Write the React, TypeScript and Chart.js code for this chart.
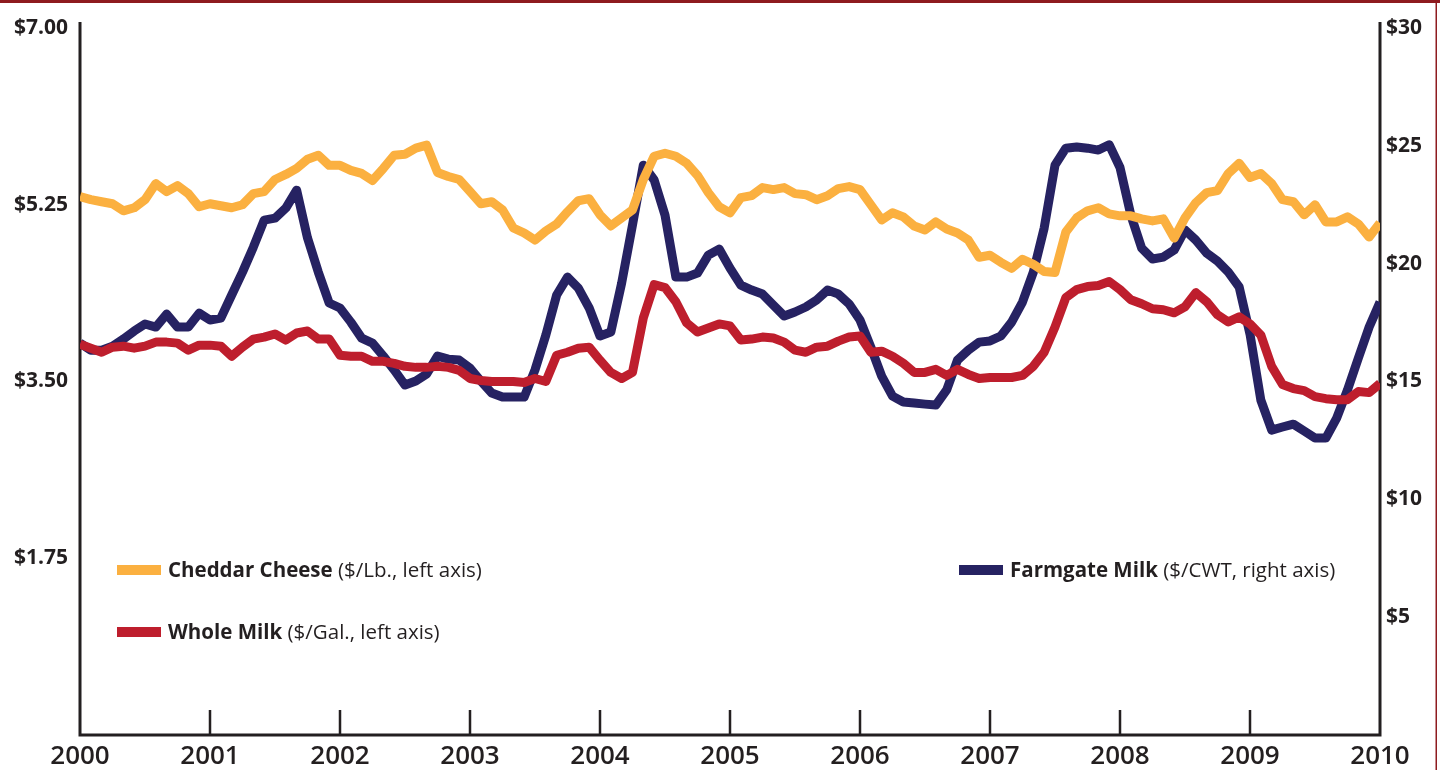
import React, { useEffect, useRef } from 'react';
import { Chart, registerables } from 'chart.js';

Chart.register(...registerables);

// ---- data (monthly, Jan 2000 .. Jan 2010) ----
const YEARS = ['2000', '2001', '2002', '2003', '2004', '2005', '2006', '2007', '2008', '2009', '2010'];

const CHEDDAR = [
  5.33, 5.30, 5.28, 5.26, 5.19, 5.22, 5.30, 5.46, 5.38, 5.44, 5.36, 5.23,
  5.26, 5.24, 5.22, 5.25, 5.36, 5.38, 5.50, 5.55, 5.61, 5.70, 5.74, 5.64,
  5.64, 5.59, 5.56, 5.49, 5.61, 5.74, 5.75, 5.81, 5.84, 5.57, 5.53, 5.50,
  5.38, 5.26, 5.28, 5.20, 5.02, 4.97, 4.90, 4.99, 5.06, 5.18, 5.29, 5.31,
  5.15, 5.04, 5.12, 5.20, 5.50, 5.73, 5.76, 5.73, 5.66, 5.54, 5.37, 5.23,
  5.17, 5.32, 5.34, 5.42, 5.40, 5.42, 5.36, 5.35, 5.30, 5.34, 5.41, 5.43,
  5.40, 5.25, 5.10, 5.17, 5.13, 5.04, 5.00, 5.08, 5.01, 4.97, 4.90, 4.73,
  4.75, 4.68, 4.62, 4.71, 4.66, 4.59, 4.58, 4.98, 5.12, 5.19, 5.22, 5.16,
  5.14, 5.14, 5.11, 5.09, 5.11, 4.92, 5.12, 5.27, 5.37, 5.39, 5.56, 5.66,
  5.52, 5.56, 5.46, 5.30, 5.28, 5.15, 5.25, 5.08, 5.08, 5.13, 5.06, 4.93,
  5.07,
];

const WHOLE_MILK = [
  3.87, 3.83, 3.79, 3.84, 3.85, 3.83, 3.85, 3.89, 3.89, 3.88, 3.81, 3.86,
  3.86, 3.85, 3.75, 3.84, 3.92, 3.94, 3.97, 3.91, 3.98, 4.00, 3.92, 3.92,
  3.76, 3.75, 3.75, 3.70, 3.70, 3.68, 3.65, 3.64, 3.64, 3.65, 3.64, 3.61,
  3.53, 3.51, 3.50, 3.50, 3.50, 3.49, 3.53, 3.50, 3.76, 3.79, 3.83, 3.84,
  3.71, 3.59, 3.53, 3.59, 4.13, 4.46, 4.43, 4.29, 4.08, 3.99, 4.03, 4.07,
  4.05, 3.91, 3.92, 3.94, 3.93, 3.89, 3.81, 3.79, 3.84, 3.85, 3.90, 3.94,
  3.95, 3.79, 3.80, 3.75, 3.68, 3.59, 3.59, 3.62, 3.56, 3.62, 3.57, 3.53,
  3.54, 3.54, 3.54, 3.56, 3.65, 3.79, 4.04, 4.33, 4.41, 4.44, 4.45, 4.49,
  4.41, 4.31, 4.27, 4.22, 4.21, 4.18, 4.24, 4.38, 4.29, 4.16, 4.09, 4.14,
  4.07, 3.96, 3.65, 3.47, 3.43, 3.41, 3.35, 3.33, 3.32, 3.32, 3.40, 3.39,
  3.48,
];

const FARMGATE = [
  16.63, 16.33, 16.33, 16.50, 16.80, 17.14, 17.44, 17.31, 17.86, 17.31, 17.31, 17.90,
  17.61, 17.69, 18.67, 19.64, 20.70, 21.85, 21.93, 22.36, 23.12, 21.09, 19.64, 18.33,
  18.12, 17.52, 16.84, 16.63, 16.08, 15.49, 14.85, 15.02, 15.32, 16.08, 15.95, 15.91,
  15.57, 15.02, 14.51, 14.34, 14.34, 14.34, 15.49, 16.97, 18.67, 19.43, 18.96, 18.12,
  16.93, 17.10, 19.18, 21.64, 24.18, 23.55, 22.06, 19.43, 19.43, 19.60, 20.36, 20.62,
  19.81, 19.09, 18.88, 18.71, 18.24, 17.78, 17.95, 18.16, 18.46, 18.88, 18.71, 18.29,
  17.61, 16.46, 15.23, 14.38, 14.13, 14.09, 14.04, 14.00, 14.64, 15.91, 16.33, 16.67,
  16.72, 16.93, 17.52, 18.37, 19.64, 21.51, 24.18, 24.90, 24.95, 24.90, 24.82, 25.05,
  24.08, 22.06, 20.66, 20.20, 20.28, 20.58, 21.43, 21.00, 20.45, 20.11, 19.64, 19.01,
  17.01, 14.21, 12.94, 13.07, 13.19, 12.90, 12.60, 12.60, 13.45, 14.64, 15.99, 17.31,
  18.37,
];

const SERIES_NAMES = ['Cheddar Cheese', 'Whole Milk', 'Farmgate Milk'];
const SERIES_UNITS = [' ($/Lb., left axis)', ' ($/Gal., left axis)', ' ($/CWT, right axis)'];

const ORANGE = '#FBB040';
const RED = '#BE1E2D';
const NAVY = '#262262';
const INK = '#231F20';
const FRAME = '#8E1B1F';
const FONT = '"Open Sans", "Noto Sans", sans-serif';

const toPoints = (arr: number[]) => arr.map((v, i) => ({ x: i, y: v }));

const decorPlugin = {
  id: 'decor',
  beforeDatasetsDraw(chart: any) {
    const { ctx, chartArea: a, scales } = chart;
    ctx.save();
    ctx.strokeStyle = INK;
    ctx.lineWidth = 3;
    ctx.lineJoin = 'miter';
    ctx.beginPath();
    ctx.moveTo(a.left, a.top - 6);
    ctx.lineTo(a.left, a.bottom);
    ctx.lineTo(a.right, a.bottom);
    ctx.lineTo(a.right, a.top - 6);
    ctx.stroke();
    ctx.lineWidth = 2.5;
    ctx.beginPath();
    for (let k = 1; k < YEARS.length - 1; k++) {
      const x = Math.round(scales.x.getPixelForValue(k * 12));
      ctx.moveTo(x, a.bottom);
      ctx.lineTo(x, a.bottom - 25);
    }
    ctx.stroke();
    ctx.restore();
  },
  afterDraw(chart: any) {
    const { ctx, chartArea: a } = chart;
    ctx.save();
    // frame
    ctx.fillStyle = FRAME;
    ctx.fillRect(0, 0, chart.width, 3);
    ctx.fillRect(chart.width - 4.5, 0, 1.5, chart.height);
    // legend
    const pos = [
      [a.left + 37, 570],
      [a.left + 37, 632],
      [a.left + 879, 570],
    ];
    const colors = [ORANGE, RED, NAVY];
    ctx.textBaseline = 'middle';
    for (let i = 0; i < SERIES_NAMES.length; i++) {
      const [x, y] = pos[i];
      ctx.fillStyle = colors[i];
      ctx.fillRect(x, y - 5, 44, 10);
      ctx.fillStyle = INK;
      ctx.font = `bold 20.5px ${FONT}`;
      ctx.fillText(SERIES_NAMES[i], x + 51, y + 1);
      const w = ctx.measureText(SERIES_NAMES[i]).width;
      ctx.font = `20.5px ${FONT}`;
      ctx.fillText(SERIES_UNITS[i], x + 51 + w, y + 1);
    }
    ctx.restore();
  },
};

export default function App() {
  const ref = useRef<HTMLCanvasElement>(null);

  useEffect(() => {
    document.body.style.margin = '0';
    let chart: Chart | null = null;
    let cancelled = false;

    const build = () => {
      if (cancelled || !ref.current) return;
      chart = new Chart(ref.current, {
        type: 'line',
        data: {
          datasets: [
            {
              label: SERIES_NAMES[0],
              data: toPoints(CHEDDAR),
              borderColor: ORANGE,
              yAxisID: 'y',
              order: 1,
            },
            {
              label: SERIES_NAMES[1],
              data: toPoints(WHOLE_MILK),
              borderColor: RED,
              yAxisID: 'y',
              order: 2,
            },
            {
              label: SERIES_NAMES[2],
              data: toPoints(FARMGATE),
              borderColor: NAVY,
              yAxisID: 'y1',
              order: 3,
            },
          ],
        },
        options: {
          responsive: false,
          animation: false,
          devicePixelRatio: 1,
          layout: { padding: { top: 28, left: 0, right: 0, bottom: 0 } },
          elements: {
            line: { borderWidth: 9, tension: 0, borderJoinStyle: 'round', borderCapStyle: 'butt', fill: false },
            point: { radius: 0, hoverRadius: 0 },
          },
          plugins: { legend: { display: false }, tooltip: { enabled: false } },
          events: [],
          scales: {
            x: {
              type: 'linear',
              position: 'bottom',
              min: 0,
              max: 120,
              afterFit: (s: any) => { s.height = 35; },
              grid: { display: false, drawTicks: false },
              border: { display: false },
              ticks: {
                stepSize: 12,
                autoSkip: false,
                maxRotation: 0,
                padding: 6,
                color: INK,
                font: { family: FONT, size: 26, weight: '600' },
                callback: (v: any) => YEARS[Math.round(Number(v) / 12)] ?? '',
              },
            },
            y: {
              type: 'linear',
              position: 'left',
              min: 0,
              max: 7,
              afterFit: (s: any) => { s.width = 80; },
              grid: { display: false, drawTicks: false },
              border: { display: false },
              ticks: {
                stepSize: 1.75,
                padding: 12,
                color: INK,
                font: { family: FONT, size: 21, weight: 'bold' },
                callback: (v: any) => (Number(v) === 0 ? '' : '$' + Number(v).toFixed(2)),
              },
            },
            y1: {
              type: 'linear',
              position: 'right',
              min: 0,
              max: 30,
              afterFit: (s: any) => { s.width = 60; },
              grid: { display: false, drawTicks: false },
              border: { display: false },
              ticks: {
                stepSize: 5,
                padding: 6,
                color: INK,
                font: { family: FONT, size: 21, weight: 'bold' },
                callback: (v: any) => (Number(v) === 0 ? '' : '$' + Number(v)),
              },
            },
          },
        },
        plugins: [decorPlugin],
      } as any);
    };

    const fontsReady = (document as any).fonts
      ? Promise.all([
          (document as any).fonts.load(`bold 21px "Open Sans"`),
          (document as any).fonts.load(`600 26px "Open Sans"`),
          (document as any).fonts.load(`20px "Open Sans"`),
        ]).catch(() => null)
      : Promise.resolve(null);
    fontsReady.then(build);

    return () => {
      cancelled = true;
      if (chart) chart.destroy();
    };
  }, []);

  return (
    <div style={{ width: 1440, height: 770, position: 'relative', background: '#fff' }}>
      <canvas ref={ref} width={1440} height={770} style={{ display: 'block', width: 1440, height: 770 }} />
    </div>
  );
}
